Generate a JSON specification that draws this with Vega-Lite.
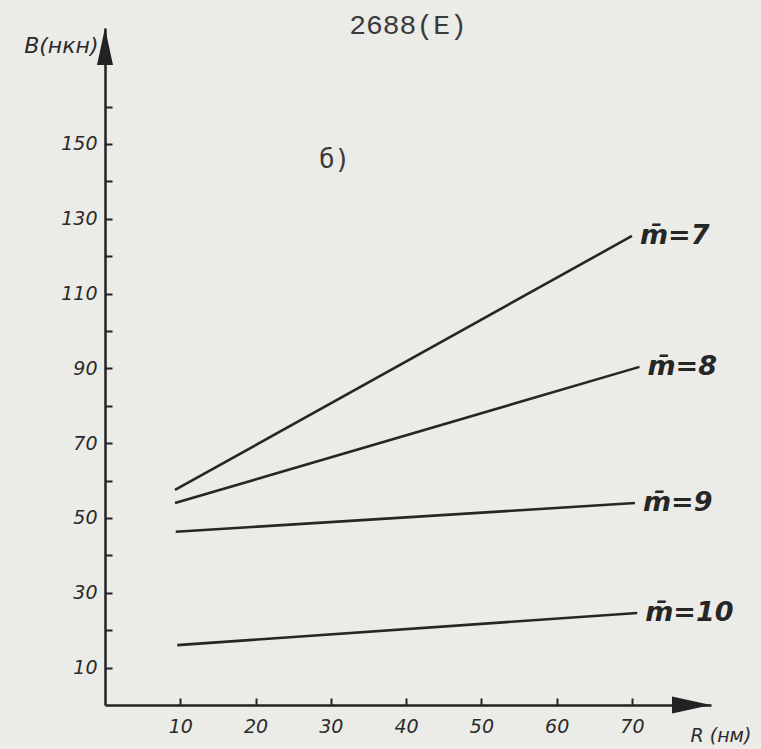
{
  "$schema": "https://vega.github.io/schema/vega-lite/v6.json",
  "width": 606,
  "height": 677,
  "autosize": {"type": "none"},
  "padding": {"left": 105, "top": 28, "right": 50, "bottom": 44},
  "background": "#ebebe8",
  "config": {"view": {"stroke": null}},
  "title": {"text": "2688(E)", "font": "Liberation Mono", "fontSize": 28, "fontWeight": "normal", "color": "#3a3a3a", "anchor": "middle", "baseline": "middle", "offset": -26},
  "datasets": {
    "lines": [
      {"series": "m̄=7", "R": 9.3, "B": 57.5},
      {"series": "m̄=7", "R": 70.0, "B": 125.4},
      {"series": "m̄=8", "R": 9.3, "B": 54.0},
      {"series": "m̄=8", "R": 71.0, "B": 90.4},
      {"series": "m̄=9", "R": 9.4, "B": 46.3},
      {"series": "m̄=9", "R": 70.4, "B": 54.0},
      {"series": "m̄=10", "R": 9.6, "B": 16.0},
      {"series": "m̄=10", "R": 70.7, "B": 24.6}
    ],
    "labels": [
      {"series": "m̄=7", "R": 70.0, "B": 125.4},
      {"series": "m̄=8", "R": 71.0, "B": 90.4},
      {"series": "m̄=9", "R": 70.4, "B": 54.0},
      {"series": "m̄=10", "R": 70.7, "B": 24.6}
    ],
    "arrows": [
      {"axis": "y", "R": 0, "B": 181},
      {"axis": "x", "R": 80.5, "B": 0}
    ],
    "notes": [
      {"text": "б)", "R": 30.5, "B": 145.7}
    ]
  },
  "layer": [
    {
      "data": {"name": "lines"},
      "mark": {"type": "line", "color": "#262626", "strokeWidth": 2.6, "clip": false},
      "encoding": {
        "x": {
          "field": "R", "type": "quantitative",
          "scale": {"domain": [0, 80.5], "nice": false, "zero": false},
          "axis": {
            "values": [10, 20, 30, 40, 50, 60, 70],
            "grid": false,
            "domainColor": "#222", "domainWidth": 2.5,
            "tickColor": "#222", "tickWidth": 2, "tickSize": -7,
            "labelFont": "DejaVu Sans", "labelFontStyle": "italic", "labelFontSize": 19, "labelColor": "#2a2a2a",
            "labelPadding": 19,
            "title": "R (нм)", "titleFont": "DejaVu Sans", "titleFontStyle": "italic", "titleFontWeight": "normal", "titleFontSize": 19, "titleColor": "#2a2a2a",
            "titleX": 585, "titleY": 30, "titleAlign": "left", "titleBaseline": "middle", "titleAnchor": null
          }
        },
        "y": {
          "field": "B", "type": "quantitative",
          "scale": {"domain": [0, 181], "nice": false, "zero": false},
          "axis": {
            "values": [10, 20, 30, 40, 50, 60, 70, 80, 90, 100, 110, 120, 130, 140, 150, 160],
            "labelExpr": "datum.value % 20 == 10 ? datum.label : ''",
            "grid": false,
            "domainColor": "#222", "domainWidth": 2.5,
            "tickColor": "#222", "tickWidth": 2, "tickSize": -7,
            "labelFont": "DejaVu Sans", "labelFontStyle": "italic", "labelFontSize": 19, "labelColor": "#2a2a2a",
            "labelPadding": 15,
            "title": "B(нкн)", "titleFont": "DejaVu Sans", "titleFontStyle": "italic", "titleFontWeight": "normal", "titleFontSize": 22, "titleColor": "#2a2a2a",
            "titleAngle": 0, "titleX": -7, "titleY": 17, "titleAlign": "right", "titleBaseline": "middle"
          }
        },
        "detail": {"field": "series", "type": "nominal"}
      }
    },
    {
      "data": {"name": "labels"},
      "mark": {"type": "text", "align": "left", "baseline": "middle", "dx": 8, "font": "DejaVu Sans", "fontStyle": "italic", "fontWeight": "bold", "fontSize": 27, "color": "#262626"},
      "encoding": {
        "x": {"field": "R", "type": "quantitative"},
        "y": {"field": "B", "type": "quantitative"},
        "text": {"field": "series"}
      }
    },
    {
      "data": {"name": "notes"},
      "mark": {"type": "text", "align": "center", "baseline": "middle", "font": "DejaVu Sans Mono", "fontSize": 26, "color": "#3a3a3a"},
      "encoding": {
        "x": {"field": "R", "type": "quantitative"},
        "y": {"field": "B", "type": "quantitative"},
        "text": {"field": "text"}
      }
    },
    {
      "data": {"name": "arrows"},
      "transform": [{"filter": "datum.axis == 'y'"}],
      "mark": {"type": "point", "filled": true, "color": "#222", "opacity": 1, "size": 1600, "shape": "M0,0L0.4,1.85L-0.4,1.85Z", "clip": false},
      "encoding": {
        "x": {"field": "R", "type": "quantitative"},
        "y": {"field": "B", "type": "quantitative"}
      }
    },
    {
      "data": {"name": "arrows"},
      "transform": [{"filter": "datum.axis == 'x'"}],
      "mark": {"type": "point", "filled": true, "color": "#222", "opacity": 1, "size": 1600, "shape": "M0,0L-1.95,-0.42L-1.95,0.42Z", "clip": false},
      "encoding": {
        "x": {"field": "R", "type": "quantitative"},
        "y": {"field": "B", "type": "quantitative"}
      }
    }
  ]
}
